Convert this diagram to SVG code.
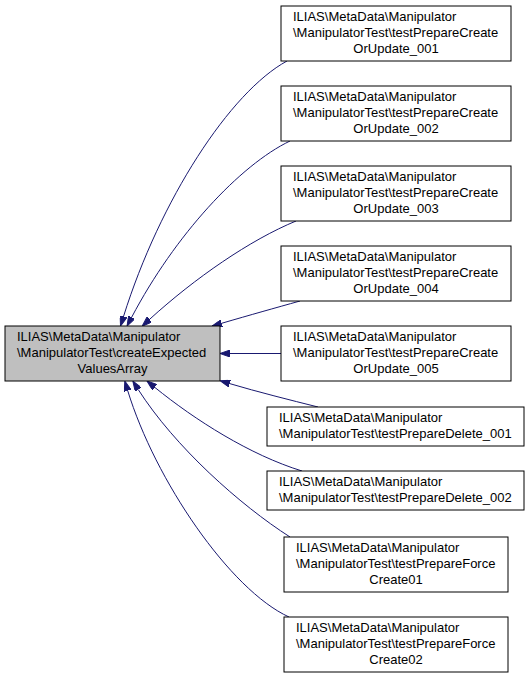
<svg xmlns="http://www.w3.org/2000/svg" width="529" height="679" viewBox="0 0 529 679">
<defs>
<style>
.n rect{fill:#ffffff;stroke:#000000;stroke-width:1}
.root rect{fill:#bfbfbf;stroke:#000000;stroke-width:1}
text{font-family:"Liberation Sans",Arial,Helvetica,sans-serif;font-size:13px;fill:#000000}
.c{text-anchor:middle}
.e path{fill:none;stroke:#191970;stroke-width:1;marker-end:url(#ah)}
</style>
<marker id="ah" viewBox="0 0 10 7" markerWidth="10" markerHeight="7" refX="0" refY="3.5" orient="auto" markerUnits="userSpaceOnUse">
<path d="M0,0 L10,3.5 L0,7 z" fill="#191970" stroke="#191970" stroke-width="1"/>
</marker>
</defs>
<rect width="529" height="679" fill="#ffffff"/>
<g id="connectors" class="e">
<path d="M287,61 C230,92 160,200 123.5,316.5"/>
<path d="M290,141 C240,165 175,235 131.7,317.2"/>
<path d="M296,221 C250,240 195,278 149.5,319.4"/>
<path d="M300,301 C275,308 250,315 221.6,323.3"/>
<path d="M281,353.5 L230,353.5"/>
<path d="M318,407 C290,400 258,392 229.7,383.6"/>
<path d="M302,471 C250,455 195,420 154.7,387.3"/>
<path d="M290,537 C240,505 175,447 138.2,389.5"/>
<path d="M289,617 C230,590 155,480 127.7,390.6"/>
</g>
<g id="root" class="root">
<rect x="5" y="326" width="215" height="55"/>
<text x="17" y="340.5">ILIAS\MetaData\Manipulator</text>
<text x="17" y="356.5">\ManipulatorTest\createExpected</text>
<text x="112.5" y="372.5" class="c">ValuesArray</text>
</g>
<g id="n1" class="n">
<rect x="281" y="6" width="230" height="55"/>
<text x="293" y="20.5">ILIAS\MetaData\Manipulator</text>
<text x="293" y="36.5">\ManipulatorTest\testPrepareCreate</text>
<text x="396" y="52.5" class="c">OrUpdate_001</text>
</g>
<g id="n2" class="n">
<rect x="281" y="86" width="230" height="55"/>
<text x="293" y="100.5">ILIAS\MetaData\Manipulator</text>
<text x="293" y="116.5">\ManipulatorTest\testPrepareCreate</text>
<text x="396" y="132.5" class="c">OrUpdate_002</text>
</g>
<g id="n3" class="n">
<rect x="281" y="166" width="230" height="55"/>
<text x="293" y="180.5">ILIAS\MetaData\Manipulator</text>
<text x="293" y="196.5">\ManipulatorTest\testPrepareCreate</text>
<text x="396" y="212.5" class="c">OrUpdate_003</text>
</g>
<g id="n4" class="n">
<rect x="281" y="246" width="230" height="55"/>
<text x="293" y="260.5">ILIAS\MetaData\Manipulator</text>
<text x="293" y="276.5">\ManipulatorTest\testPrepareCreate</text>
<text x="396" y="292.5" class="c">OrUpdate_004</text>
</g>
<g id="n5" class="n">
<rect x="281" y="326" width="230" height="55"/>
<text x="293" y="340.5">ILIAS\MetaData\Manipulator</text>
<text x="293" y="356.5">\ManipulatorTest\testPrepareCreate</text>
<text x="396" y="372.5" class="c">OrUpdate_005</text>
</g>
<g id="d1" class="n">
<rect x="267" y="407" width="257" height="39"/>
<text x="279" y="421.5">ILIAS\MetaData\Manipulator</text>
<text x="279" y="437.5">\ManipulatorTest\testPrepareDelete_001</text>
</g>
<g id="d2" class="n">
<rect x="267" y="471" width="257" height="39"/>
<text x="279" y="485.5">ILIAS\MetaData\Manipulator</text>
<text x="279" y="501.5">\ManipulatorTest\testPrepareDelete_002</text>
</g>
<g id="f1" class="n">
<rect x="284" y="537" width="224" height="55"/>
<text x="296" y="551.5">ILIAS\MetaData\Manipulator</text>
<text x="296" y="567.5">\ManipulatorTest\testPrepareForce</text>
<text x="396" y="583.5" class="c">Create01</text>
</g>
<g id="f2" class="n">
<rect x="284" y="617" width="224" height="55"/>
<text x="296" y="631.5">ILIAS\MetaData\Manipulator</text>
<text x="296" y="647.5">\ManipulatorTest\testPrepareForce</text>
<text x="396" y="663.5" class="c">Create02</text>
</g>
</svg>
